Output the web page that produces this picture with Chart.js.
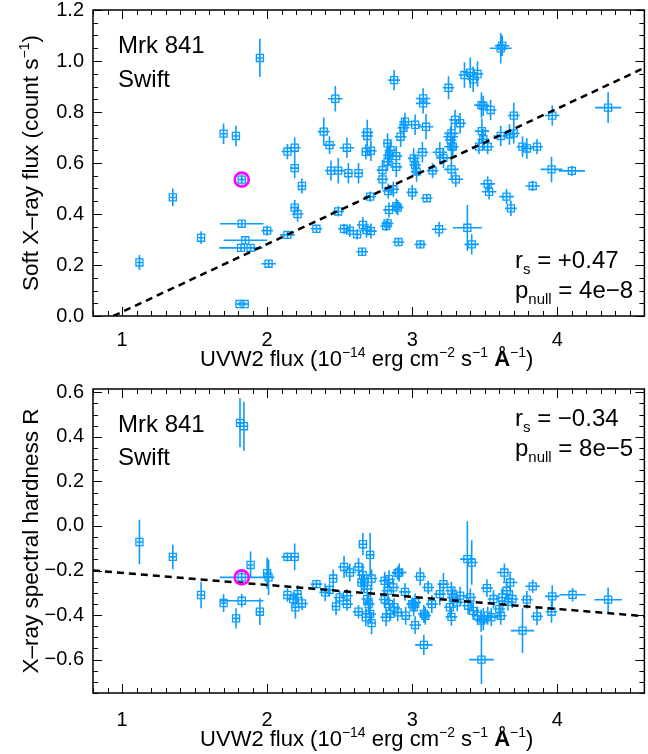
<!DOCTYPE html>
<html>
<head>
<meta charset="utf-8">
<script src="https://cdn.jsdelivr.net/npm/chart.js@4.4.1/dist/chart.umd.min.js"></script>
<style>
  html, body { margin: 0; padding: 0; background: #fff; width: 648px; height: 754px; overflow: hidden; }
  canvas { position: absolute; left: 0; }
  #top-chart { top: 0; }
  #bot-chart { top: 375px; }
</style>
</head>
<body>
<canvas id="top-chart" width="654" height="375"></canvas>
<canvas id="bot-chart" width="654" height="379"></canvas>
<script>
'use strict';

// ---- Data: soft X-ray flux vs UVW2 flux (top panel) ----
const topX = [
  1.12, 1.35, 1.545, 1.70, 1.785, 1.825, 1.825, 1.85, 1.82, 1.886,
  1.81, 1.845, 2.00, 2.01, 2.14, 1.95, 2.14, 2.19, 2.19, 2.24,
  2.19, 2.21, 2.34, 2.39, 2.43, 2.47, 2.55, 2.44, 2.49, 2.56,
  2.63, 2.49, 2.53, 2.57, 2.66, 2.62, 2.655, 2.685, 2.715, 2.69,
  2.69, 2.68, 2.715, 2.71, 2.875, 2.83, 2.85, 2.84, 2.89, 2.95,
  2.94, 2.92, 3.02, 3.095, 2.83, 2.89, 2.795, 2.795, 3.01, 3.02,
  3.03, 3.07, 3.19, 3.215, 3.265, 3.27, 3.295, 3.33, 3.14, 3.27,
  3.30, 2.835, 2.87, 3.00, 3.10, 2.84, 2.89, 2.90, 2.83, 2.82,
  2.905, 3.056, 3.185, 3.38, 3.41, 3.075, 3.075, 3.25, 3.36, 3.40,
  3.42, 3.45, 3.61, 3.62, 3.477, 3.49, 3.54, 3.70, 3.965, 4.35,
  3.27, 3.265, 3.28, 3.48, 3.49, 3.46, 3.52, 3.61, 3.67, 3.70,
  3.76, 3.79, 3.86, 3.96, 4.10, 3.52, 3.53, 3.65, 3.68, 3.83
];
const topXErr = [
  0.02, 0.02, 0.02, 0.02, 0.02, 0.02, 0.15, 0.15, 0.15, 0.03,
  0.03, 0.03, 0.04, 0.05, 0.05, 0.02, 0.04, 0.04, 0.03, 0.03,
  0.03, 0.04, 0.04, 0.04, 0.04, 0.05, 0.05, 0.04, 0.04, 0.03,
  0.03, 0.04, 0.04, 0.03, 0.04, 0.03, 0.04, 0.04, 0.04, 0.04,
  0.04, 0.03, 0.04, 0.04, 0.04, 0.03, 0.04, 0.04, 0.04, 0.04,
  0.04, 0.04, 0.04, 0.05, 0.04, 0.04, 0.04, 0.04, 0.04, 0.04,
  0.04, 0.04, 0.05, 0.05, 0.05, 0.05, 0.04, 0.04, 0.04, 0.05,
  0.05, 0.04, 0.04, 0.04, 0.04, 0.04, 0.04, 0.04, 0.04, 0.04,
  0.04, 0.04, 0.05, 0.10, 0.05, 0.05, 0.05, 0.04, 0.04, 0.05,
  0.04, 0.04, 0.075, 0.05, 0.05, 0.04, 0.04, 0.04, 0.05, 0.09,
  0.05, 0.04, 0.04, 0.05, 0.04, 0.05, 0.04, 0.05, 0.04, 0.04,
  0.04, 0.04, 0.04, 0.075, 0.09, 0.05, 0.05, 0.05, 0.04, 0.05
];
const topY = [
  0.21, 0.465, 0.307, 0.715, 0.706, 0.535, 0.362, 0.297, 0.267, 0.267,
  0.047, 0.047, 0.335, 0.205, 0.318, 1.012, 0.645, 0.66, 0.58, 0.51,
  0.425, 0.40, 0.342, 0.723, 0.67, 0.852, 0.66, 0.57, 0.57, 0.56,
  0.56, 0.41, 0.342, 0.335, 0.357, 0.32, 0.252, 0.337, 0.333, 0.72,
  0.706, 0.644, 0.648, 0.468, 0.925, 0.677, 0.65, 0.63, 0.627, 0.762,
  0.738, 0.703, 0.75, 0.742, 0.605, 0.585, 0.572, 0.536, 0.618, 0.592,
  0.566, 0.642, 0.642, 0.62, 0.703, 0.664, 0.769, 0.756, 0.57, 0.575,
  0.536, 0.49, 0.497, 0.485, 0.462, 0.416, 0.431, 0.425, 0.363, 0.353,
  0.29, 0.281, 0.34, 0.346, 0.281, 0.853, 0.834, 0.895, 0.945, 0.954,
  0.928, 0.949, 1.05, 1.06, 0.827, 0.824, 0.808, 0.786, 0.786, 0.817,
  0.716, 0.69, 0.664, 0.725, 0.693, 0.664, 0.664, 0.706, 0.712, 0.716,
  0.664, 0.657, 0.664, 0.575, 0.569, 0.518, 0.487, 0.468, 0.422, 0.51
];
const topYErr = [
  0.03, 0.035, 0.025, 0.04, 0.04, 0.02, 0.012, 0.012, 0.012, 0.015,
  0.008, 0.008, 0.02, 0.015, 0.015, 0.075, 0.03, 0.04, 0.04, 0.03,
  0.03, 0.03, 0.015, 0.055, 0.035, 0.05, 0.04, 0.04, 0.05, 0.04,
  0.04, 0.02, 0.02, 0.025, 0.03, 0.02, 0.015, 0.03, 0.03, 0.05,
  0.04, 0.03, 0.04, 0.02, 0.04, 0.04, 0.04, 0.04, 0.04, 0.035,
  0.04, 0.04, 0.04, 0.05, 0.03, 0.04, 0.04, 0.04, 0.04, 0.04,
  0.04, 0.04, 0.04, 0.04, 0.04, 0.04, 0.04, 0.04, 0.03, 0.04,
  0.03, 0.03, 0.03, 0.03, 0.015, 0.03, 0.03, 0.03, 0.02, 0.02,
  0.015, 0.015, 0.03, 0.09, 0.04, 0.04, 0.04, 0.045, 0.05, 0.06,
  0.05, 0.05, 0.06, 0.04, 0.05, 0.04, 0.04, 0.05, 0.04, 0.06,
  0.04, 0.04, 0.04, 0.05, 0.04, 0.03, 0.03, 0.04, 0.04, 0.04,
  0.04, 0.04, 0.03, 0.05, 0.02, 0.03, 0.03, 0.03, 0.03, 0.02
];

// ---- Data: X-ray spectral hardness vs UVW2 flux (bottom panel) ----
const botX = [
  1.12, 1.35, 1.545, 1.70, 1.786, 1.825, 1.825, 1.813, 1.84, 1.886,
  1.95, 2.00, 2.01, 2.14, 2.19, 2.14, 2.21, 2.18, 2.195, 2.24,
  2.34, 2.40, 2.455, 2.43, 2.53, 2.57, 2.63, 2.66, 2.67, 2.72,
  2.66, 2.71, 2.50, 2.55, 2.475, 2.55, 2.63, 2.68, 2.65, 2.69,
  2.71, 2.72, 2.81, 2.84, 2.90, 2.83, 2.87, 2.95, 2.81, 2.84,
  2.875, 2.85, 2.82, 2.90, 2.955, 3.02, 3.00, 3.01, 3.08, 3.055,
  3.11, 3.135, 3.19, 3.215, 3.27, 3.28, 3.26, 3.27, 3.33, 3.31,
  3.38, 3.41, 3.40, 3.385, 3.42, 3.45, 3.475, 3.49, 3.515, 3.52,
  3.545, 3.61, 3.477, 3.08, 3.635, 3.675, 3.65, 3.62, 3.83, 3.79,
  3.86, 3.76, 3.965, 3.96, 4.105, 4.35, 2.91, 3.02, 3.09, 3.56,
  3.60, 3.66, 3.69, 2.69, 2.70
];
const botXErr = [
  0.02, 0.02, 0.02, 0.02, 0.02, 0.15, 0.15, 0.02, 0.03, 0.02,
  0.03, 0.03, 0.04, 0.04, 0.03, 0.03, 0.03, 0.04, 0.03, 0.04,
  0.04, 0.04, 0.03, 0.03, 0.04, 0.04, 0.04, 0.04, 0.03, 0.04,
  0.03, 0.03, 0.04, 0.04, 0.03, 0.04, 0.04, 0.03, 0.03, 0.04,
  0.04, 0.03, 0.04, 0.04, 0.04, 0.04, 0.04, 0.04, 0.04, 0.04,
  0.04, 0.04, 0.04, 0.04, 0.04, 0.04, 0.04, 0.04, 0.04, 0.04,
  0.04, 0.04, 0.04, 0.04, 0.04, 0.04, 0.04, 0.04, 0.04, 0.04,
  0.05, 0.04, 0.04, 0.04, 0.04, 0.04, 0.04, 0.04, 0.04, 0.04,
  0.04, 0.04, 0.085, 0.06, 0.05, 0.05, 0.04, 0.04, 0.05, 0.04,
  0.04, 0.08, 0.05, 0.04, 0.09, 0.095, 0.05, 0.04, 0.04, 0.04,
  0.04, 0.04, 0.04, 0.04, 0.04
];
const botY = [
  -0.072, -0.139, -0.31, -0.346, -0.415, -0.231, -0.336, 0.463, 0.448, -0.175,
  -0.385, -0.212, -0.231, -0.139, -0.139, -0.31, -0.306, -0.328, -0.365, -0.348,
  -0.261, -0.298, -0.236, -0.287, -0.184, -0.209, -0.184, -0.221, -0.254, -0.236,
  -0.082, -0.13, -0.321, -0.313, -0.361, -0.351, -0.385, -0.41, -0.254, -0.328,
  -0.395, -0.436, -0.246, -0.239, -0.212, -0.291, -0.276, -0.296, -0.33, -0.351,
  -0.365, -0.395, -0.41, -0.388, -0.403, -0.445, -0.351, -0.365, -0.395, -0.227,
  -0.276, -0.351, -0.306, -0.261, -0.291, -0.321, -0.365, -0.408, -0.313, -0.343,
  -0.149, -0.164, -0.321, -0.358, -0.381, -0.403, -0.425, -0.418, -0.279, -0.403,
  -0.41, -0.403, -0.60, -0.534, -0.209, -0.254, -0.291, -0.321, -0.271, -0.331,
  -0.406, -0.47, -0.316, -0.385, -0.309, -0.331, -0.209, -0.343, -0.403, -0.328,
  -0.373, -0.34, -0.328, -0.283, -0.351
];
const botYErr = [
  0.10, 0.055, 0.06, 0.04, 0.045, 0.03, 0.03, 0.11, 0.11, 0.06,
  0.06, 0.07, 0.08, 0.02, 0.06, 0.03, 0.04, 0.03, 0.05, 0.03,
  0.02, 0.04, 0.04, 0.03, 0.05, 0.04, 0.04, 0.05, 0.04, 0.04,
  0.05, 0.10, 0.03, 0.03, 0.04, 0.03, 0.03, 0.04, 0.04, 0.03,
  0.04, 0.05, 0.04, 0.04, 0.03, 0.04, 0.04, 0.04, 0.04, 0.03,
  0.04, 0.03, 0.04, 0.04, 0.04, 0.04, 0.03, 0.04, 0.04, 0.04,
  0.03, 0.04, 0.05, 0.05, 0.04, 0.04, 0.04, 0.04, 0.04, 0.04,
  0.17, 0.10, 0.04, 0.04, 0.04, 0.04, 0.05, 0.05, 0.04, 0.04,
  0.04, 0.04, 0.11, 0.045, 0.04, 0.04, 0.04, 0.04, 0.03, 0.04,
  0.04, 0.10, 0.05, 0.05, 0.03, 0.055, 0.04, 0.04, 0.04, 0.04,
  0.04, 0.04, 0.04, 0.04, 0.04
];

// ---- Fit lines and highlighted observation ----
const topFitX = [0.94, 4.6];
const topFitY = [0.0, 0.973];
const botFitX = [0.8, 4.6];
const botFitY = [-0.20, -0.405];
const topMark = [1.825, 0.535];
const botMark = [1.825, -0.231];

// ---- Axes ----
const xRange = [0.8, 4.6];
const xTicks = [1, 2, 3, 4];
const topYRange = [0, 1.2];
const topYTicks = [0, 0.2, 0.4, 0.6, 0.8, 1.0, 1.2];
const botYRange = [-0.75, 0.615];
const botYTicks = [-0.6, -0.4, -0.2, 0, 0.2, 0.4, 0.6];

const FONT = '"Liberation Sans", Arial, Helvetica, sans-serif';
const BLUE = 'rgb(10,156,255)';
const MAGENTA = '#ff00ff';

// ---- Rich text (super/subscripts) ----
function drawRich(ctx, parts, x, y, size, align) {
  let total = 0;
  const runs = parts.map(([t, k]) => {
    const small = k === 'sup' || k === 'sub';
    const s = small ? Math.round(size * 0.64) : size;
    const f = (k === 'b' ? 'bold ' : '') + s + 'px ' + FONT;
    ctx.font = f;
    const w = ctx.measureText(t).width;
    total += w;
    const dy = k === 'sup' ? -size * 0.42 : k === 'sub' ? size * 0.24 : 0;
    return { t, f, w, dy };
  });
  let cx = align === 'center' ? x - total / 2 : x;
  ctx.textAlign = 'left';
  ctx.textBaseline = 'alphabetic';
  for (const r of runs) {
    ctx.font = r.f;
    ctx.fillText(r.t, cx, y + r.dy);
    cx += r.w;
  }
}

const uvTitle = [
  ['UVW2 flux (10'], ['\u221214', 'sup'], [' erg cm'], ['\u22122', 'sup'],
  [' s'], ['\u22121', 'sup'], [' '], ['\u00c5', 'b'], ['\u22121', 'sup'], [')']
];

// ---- Plugins ----
const errorBars = {
  id: 'errorBars',
  beforeDatasetsDraw(chart) {
    const o = chart.options.plugins.errorBars;
    const { ctx, scales: { x, y } } = chart;
    ctx.save();
    ctx.strokeStyle = BLUE;
    ctx.lineWidth = 1.6;
    ctx.beginPath();
    for (let i = 0; i < o.xs.length; i++) {
      const px = x.getPixelForValue(o.xs[i]);
      const py = y.getPixelForValue(o.ys[i]);
      ctx.moveTo(x.getPixelForValue(o.xs[i] - o.xe[i]), py);
      ctx.lineTo(x.getPixelForValue(o.xs[i] + o.xe[i]), py);
      ctx.moveTo(px, y.getPixelForValue(o.ys[i] - o.ye[i]));
      ctx.lineTo(px, y.getPixelForValue(o.ys[i] + o.ye[i]));
    }
    ctx.stroke();
    ctx.restore();
  }
};

const frameTicks = {
  id: 'frameTicks',
  afterDatasetsDraw(chart) {
    const o = chart.options.plugins.frameTicks;
    const { ctx, chartArea: a, scales: { x, y } } = chart;
    ctx.save();
    ctx.strokeStyle = '#000';
    ctx.lineWidth = 1;
    ctx.beginPath();
    // x ticks every 0.1, major on integers
    for (let i = Math.round(xRange[0] * 10); i <= Math.round(xRange[1] * 10); i++) {
      const px = Math.round(x.getPixelForValue(i / 10)) + 0.5;
      const len = i % 10 === 0 ? 9 : 5;
      ctx.moveTo(px, a.bottom); ctx.lineTo(px, a.bottom - len);
      ctx.moveTo(px, a.top); ctx.lineTo(px, a.top + len);
    }
    // y ticks every 0.05, major every 0.2
    for (let i = Math.ceil(o.yMin / 0.05 - 1e-6); i <= Math.floor(o.yMax / 0.05 + 1e-6); i++) {
      const py = Math.round(y.getPixelForValue(i * 0.05)) + 0.5;
      const len = i % 4 === 0 ? 9 : 5;
      ctx.moveTo(a.left, py); ctx.lineTo(a.left + len, py);
      ctx.moveTo(a.right, py); ctx.lineTo(a.right - len, py);
    }
    ctx.stroke();
    ctx.lineWidth = 1.5;
    ctx.strokeRect(a.left, a.top, a.right - a.left, a.bottom - a.top);
    ctx.restore();
  },
  afterDraw(chart) {
    const o = chart.options.plugins.frameTicks;
    const { ctx, chartArea: a } = chart;
    ctx.save();
    ctx.fillStyle = '#000';
    // axis titles
    drawRich(ctx, uvTitle, (a.left + a.right) / 2 - 2, a.bottom + o.xTitleDy, 22, 'center');
    ctx.translate(o.yTitleX, (a.top + a.bottom) / 2);
    ctx.rotate(-Math.PI / 2);
    drawRich(ctx, o.yTitle, 0, 0, 22.5, 'center');
    ctx.restore();
    ctx.save();
    ctx.fillStyle = '#000';
    for (const t of o.texts) {
      const ty = t.from === 'top' ? a.top + t.dy : a.bottom - t.dy;
      drawRich(ctx, t.parts, a.left + t.dx, ty, 24, 'left');
    }
    ctx.restore();
  }
};

// ---- Panel builder ----
function makePanel(id, p) {
  const pts = p.xs.map((x, i) => ({ x, y: p.ys[i] }));
  const fit = p.fitX.map((x, i) => ({ x, y: p.fitY[i] }));
  return new Chart(document.getElementById(id), {
    type: 'scatter',
    data: {
      datasets: [
        {
          data: [{ x: p.mark[0], y: p.mark[1] }],
          pointStyle: 'circle', pointRadius: 7,
          pointBorderColor: MAGENTA, pointBorderWidth: 2.6,
          pointBackgroundColor: 'rgba(0,0,0,0)', order: 0
        },
        {
          type: 'line', data: fit,
          borderColor: '#000', borderWidth: 2.5, borderDash: [7, 5],
          pointRadius: 0, fill: false, tension: 0, order: 1
        },
        {
          data: pts,
          pointStyle: 'rect', pointRadius: 5,
          pointBorderColor: BLUE, pointBorderWidth: 1.3,
          pointBackgroundColor: 'rgba(0,0,0,0)', order: 2
        }
      ]
    },
    options: {
      responsive: false,
      animation: false,
      events: [],
      layout: { padding: { top: p.padTop, right: 4, bottom: 0, left: 0 } },
      plugins: {
        legend: { display: false },
        tooltip: { enabled: false },
        errorBars: { xs: p.xs, ys: p.ys, xe: p.xe, ye: p.ye },
        frameTicks: {
          yMin: p.yRange[0], yMax: p.yRange[1],
          xTitleDy: p.xTitleDy, yTitleX: 38, yTitle: p.yTitle, texts: p.texts
        }
      },
      scales: {
        x: {
          type: 'linear', min: xRange[0], max: xRange[1],
          grid: { display: false, drawTicks: false },
          border: { display: false },
          afterBuildTicks: s => { s.ticks = xTicks.map(v => ({ value: v })); },
          afterFit: s => { s.height = p.xAxisH; s.paddingLeft = 0; s.paddingRight = 0; },
          ticks: {
            padding: p.xTickPad, maxRotation: 0, autoSkip: false,
            color: '#000', font: { family: FONT, size: 20 },
            callback: v => String(v)
          }
        },
        y: {
          type: 'linear', min: p.yRange[0], max: p.yRange[1],
          grid: { display: false, drawTicks: false },
          border: { display: false },
          afterBuildTicks: s => { s.ticks = p.yTicks.map(v => ({ value: v })); },
          afterFit: s => { s.width = 93; s.paddingTop = 0; s.paddingBottom = 0; },
          ticks: {
            padding: 9, autoSkip: false,
            color: '#000', font: { family: FONT, size: 20 },
            callback: v => (v < -1e-9 ? '\u2212' : '') + Math.abs(v).toFixed(1)
          }
        }
      }
    },
    plugins: [errorBars, frameTicks]
  });
}

makePanel('top-chart', {
  xs: topX, ys: topY, xe: topXErr, ye: topYErr,
  fitX: topFitX, fitY: topFitY, mark: topMark,
  yRange: topYRange, yTicks: topYTicks,
  padTop: 10, xAxisH: 59, xTickPad: 12, xTitleDy: 50,
  yTitle: [['Soft X\u2013ray flux (count s'], ['\u22121', 'sup'], [')']],
  texts: [
    { parts: [['Mrk 841']], dx: 25, dy: 43, from: 'top' },
    { parts: [['Swift']], dx: 25, dy: 77, from: 'top' },
    { parts: [['r'], ['s', 'sub'], [' = +0.47']], dx: 422, dy: 48, from: 'bottom' },
    { parts: [['p'], ['null', 'sub'], [' = 4e\u22128']], dx: 422, dy: 18, from: 'bottom' }
  ]
});

makePanel('bot-chart', {
  xs: botX, ys: botY, xe: botXErr, ye: botYErr,
  fitX: botFitX, fitY: botFitY, mark: botMark,
  yRange: botYRange, yTicks: botYTicks,
  padTop: 14, xAxisH: 61, xTickPad: 15, xTitleDy: 53,
  yTitle: [['X\u2013ray spectral hardness R']],
  texts: [
    { parts: [['Mrk 841']], dx: 25, dy: 43, from: 'top' },
    { parts: [['Swift']], dx: 25, dy: 76, from: 'top' },
    { parts: [['r'], ['s', 'sub'], [' = \u22120.34']], dx: 422, dy: 37, from: 'top' },
    { parts: [['p'], ['null', 'sub'], [' = 8e\u22125']], dx: 422, dy: 67, from: 'top' }
  ]
});
</script>
</body>
</html>
